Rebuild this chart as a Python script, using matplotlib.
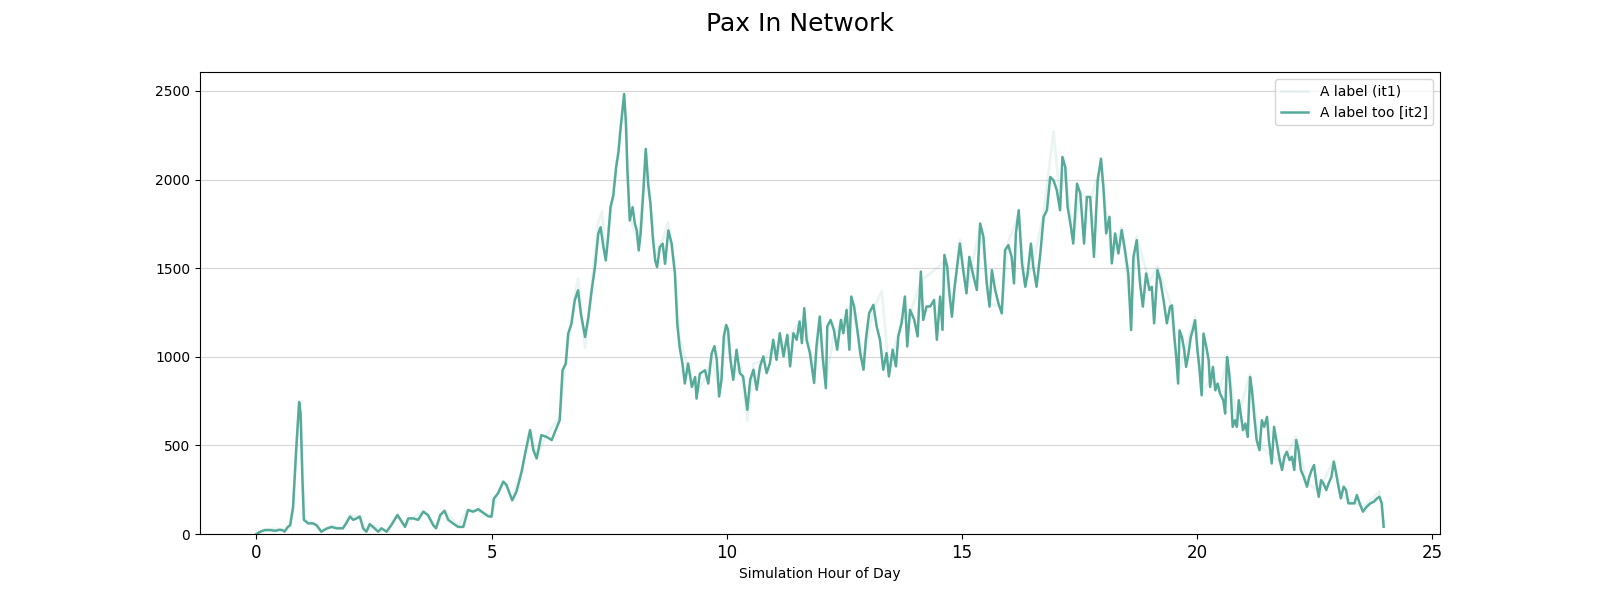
import matplotlib
matplotlib.use("Agg")
import matplotlib.pyplot as plt

# ---- data ----
hours_it2 = [0.0, 0.1, 0.18, 0.3, 0.4, 0.5, 0.57, 0.6, 0.67, 0.72, 0.78, 0.85, 0.91, 0.94, 0.98,
             1.01, 1.1, 1.2, 1.28, 1.38, 1.49, 1.6, 1.7, 1.84, 1.91, 1.99, 2.06, 2.13, 2.2, 2.27,
             2.34, 2.41, 2.48, 2.59, 2.66, 2.77, 2.87, 3.0, 3.09, 3.16, 3.23, 3.33, 3.44, 3.55,
             3.65, 3.76, 3.82, 3.91, 4.0, 4.08, 4.18, 4.29, 4.4, 4.5, 4.61, 4.72, 4.82, 4.93,
             5.0, 5.05, 5.14, 5.25, 5.32, 5.44, 5.53, 5.64, 5.73, 5.82, 5.89, 5.96, 6.06, 6.17,
             6.28, 6.35, 6.45, 6.51, 6.58, 6.63, 6.7, 6.77, 6.84, 6.9, 6.99, 7.06, 7.13, 7.2,
             7.27, 7.32, 7.38, 7.43, 7.48, 7.53, 7.59, 7.65, 7.7, 7.74, 7.79, 7.82, 7.86, 7.89,
             7.94, 8.0, 8.05, 8.09, 8.13, 8.17, 8.23, 8.28, 8.33, 8.38, 8.43, 8.48, 8.52, 8.58,
             8.64, 8.69, 8.76, 8.83, 8.9, 8.95, 9.0, 9.06, 9.11, 9.18, 9.26, 9.33, 9.36, 9.43,
             9.54, 9.61, 9.68, 9.74, 9.79, 9.84, 9.89, 9.94, 9.99, 10.03, 10.08, 10.14, 10.21,
             10.28, 10.35, 10.44, 10.5, 10.57, 10.64, 10.71, 10.78, 10.85, 10.92, 10.99, 11.06,
             11.13, 11.21, 11.29, 11.35, 11.42, 11.49, 11.55, 11.6, 11.65, 11.7, 11.77, 11.86,
             11.91, 11.98, 12.04, 12.11, 12.14, 12.21, 12.28, 12.35, 12.43, 12.48, 12.55, 12.61,
             12.65, 12.71, 12.77, 12.84, 12.91, 12.96, 13.03, 13.12, 13.19, 13.26, 13.33, 13.4,
             13.45, 13.53, 13.6, 13.65, 13.72, 13.79, 13.84, 13.9, 13.99, 14.06, 14.13, 14.18,
             14.25, 14.33, 14.41, 14.47, 14.54, 14.59, 14.63, 14.69, 14.74, 14.79, 14.84, 14.91,
             14.96, 15.03, 15.1, 15.16, 15.25, 15.32, 15.39, 15.46, 15.53, 15.59, 15.64, 15.71,
             15.78, 15.85, 15.92, 15.99, 16.06, 16.11, 16.15, 16.21, 16.28, 16.35, 16.4, 16.47,
             16.52, 16.59, 16.67, 16.74, 16.81, 16.88, 16.95, 17.02, 17.09, 17.14, 17.2, 17.25,
             17.32, 17.37, 17.45, 17.52, 17.6, 17.66, 17.73, 17.81, 17.89, 17.96, 18.01, 18.07,
             18.14, 18.19, 18.26, 18.33, 18.4, 18.47, 18.54, 18.6, 18.65, 18.72, 18.79, 18.85,
             18.92, 18.99, 19.04, 19.09, 19.16, 19.22, 19.29, 19.36, 19.43, 19.47, 19.52, 19.56,
             19.6, 19.63, 19.68, 19.73, 19.77, 19.82, 19.87, 19.91, 19.96, 20.01, 20.05, 20.1,
             20.14, 20.2, 20.25, 20.28, 20.34, 20.39, 20.44, 20.49, 20.56, 20.6, 20.64, 20.68,
             20.72, 20.76, 20.81, 20.85, 20.89, 20.93, 20.98, 21.03, 21.08, 21.13, 21.17, 21.22,
             21.27, 21.33, 21.38, 21.43, 21.49, 21.53, 21.59, 21.64, 21.7, 21.76, 21.81, 21.86,
             21.91, 21.97, 22.02, 22.07, 22.11, 22.16, 22.21, 22.27, 22.34, 22.39, 22.44, 22.49,
             22.54, 22.59, 22.64, 22.69, 22.75, 22.8, 22.86, 22.91, 22.96, 23.01, 23.06, 23.12,
             23.17, 23.22, 23.3, 23.35, 23.4, 23.46, 23.53, 23.61, 23.69, 23.76, 23.83, 23.88,
             23.93, 23.97]
pax_it2 = [0, 15, 22, 22, 18, 24, 20, 13, 40, 50, 150, 490, 745, 680, 305,
           80, 60, 60, 50, 13, 30, 40, 32, 32, 60, 98, 80, 88, 98, 32,
           13, 56, 40, 13, 32, 13, 50, 107, 70, 40, 88, 88, 80, 126,
           107, 50, 32, 107, 131, 80, 60, 40, 40, 135, 126, 140, 120, 100,
           98, 200, 230, 295, 276, 190, 238, 351, 473, 586, 473, 426, 558, 548,
           530, 577, 642, 924, 962, 1130, 1187, 1318, 1375, 1243, 1112, 1224, 1375, 1506,
           1694, 1731, 1619, 1544, 1675, 1844, 1910, 2070, 2154, 2276, 2408, 2483, 2314, 2051,
           1769, 1844, 1750, 1713, 1600, 1694, 1938, 2173, 1976, 1863, 1675, 1544, 1506, 1619,
           1638, 1525, 1713, 1638, 1469, 1187, 1055, 962, 849, 962, 830, 886, 764, 905,
           924, 849, 1018, 1060, 983, 776, 870, 1115, 1180, 1152, 983, 870, 1040,
           908, 889, 701, 870, 927, 814, 946, 1002, 908, 964, 1096, 983,
           1133, 1002, 1124, 946, 1133, 1096, 1199, 1077, 1274, 1096, 1021, 852,
           1058, 1227, 1002, 823, 1171, 1208, 1152, 1040, 1208, 1133, 1265, 1040,
           1340, 1284, 1171, 1021, 927, 1096, 1246, 1293, 1171, 1096, 927, 1021,
           889, 1040, 946, 1115, 1190, 1340, 1058, 1265, 1208, 1115, 1481, 1208,
           1284, 1284, 1321, 1096, 1340, 1152, 1575, 1509, 1350, 1226, 1377, 1527,
           1639, 1489, 1358, 1564, 1452, 1377, 1752, 1677, 1414, 1283, 1489, 1377,
           1301, 1245, 1602, 1630, 1564, 1414, 1696, 1827, 1527, 1395, 1470, 1639,
           1508, 1395, 1583, 1790, 1827, 2015, 1996, 1940, 1827, 2128, 2071, 1846,
           1733, 1639, 1977, 1921, 1639, 1902, 1902, 1564, 1996, 2118, 1959, 1696,
           1790, 1527, 1696, 1583, 1715, 1602, 1470, 1151, 1564, 1658, 1414, 1283,
           1470, 1377, 1395, 1189, 1489, 1433, 1320, 1189, 1283, 1290, 1112, 999,
           849, 1149, 1112, 1037, 943, 1018, 1112, 1149, 1206, 1037, 943, 783,
           1131, 1055, 980, 830, 943, 811, 849, 793, 755, 680, 999, 924,
           793, 605, 642, 605, 755, 680, 586, 623, 548, 886, 811, 661,
           530, 473, 642, 605, 661, 530, 398, 605, 511, 417, 361, 436,
           464, 417, 436, 361, 530, 473, 361, 323, 267, 323, 361, 389,
           285, 210, 304, 285, 248, 285, 323, 408, 342, 267, 201, 267,
           248, 173, 173, 173, 220, 173, 126, 154, 173, 182, 201, 210,
           173, 41]

hours_it1 = [0.0, 0.2, 0.4, 0.6, 0.7, 0.78, 0.85, 0.91, 0.95, 0.99, 1.03, 1.2, 1.38, 1.6, 1.84,
             1.99, 2.2, 2.34, 2.48, 2.77, 3.0, 3.16, 3.33, 3.55, 3.82, 4.0, 4.29, 4.5, 4.82,
             5.0, 5.14, 5.25, 5.44, 5.64, 5.82, 5.96, 6.17, 6.45, 6.58, 6.77, 6.84, 6.99, 7.13,
             7.27, 7.35, 7.43, 7.59, 7.74, 7.82, 7.94, 8.13, 8.28, 8.48, 8.64, 8.76, 8.9, 9.0,
             9.18, 9.36, 9.54, 9.68, 9.84, 9.99, 10.14, 10.3, 10.44, 10.57, 10.78, 10.99, 11.21,
             11.42, 11.65, 11.86, 11.98, 12.11, 12.28, 12.55, 12.65, 12.91, 13.12, 13.3, 13.45,
             13.72, 13.9, 14.13, 14.47, 14.63, 14.79, 14.96, 15.1, 15.39, 15.59, 15.85, 15.99,
             16.21, 16.35, 16.52, 16.74, 16.95, 17.09, 17.2, 17.37, 17.52, 17.73, 17.96, 18.19,
             18.4, 18.6, 18.72, 18.99, 19.16, 19.43, 19.6, 19.96, 20.1, 20.28, 20.49, 20.64,
             20.85, 21.13, 21.33, 21.59, 21.81, 22.11, 22.34, 22.59, 22.91, 23.06, 23.53, 23.88,
             23.97]
pax_it1 = [0, 25, 30, 25, 45, 160, 480, 735, 660, 290, 75, 65, 20, 45, 35,
           105, 100, 18, 45, 18, 110, 45, 92, 130, 38, 135, 45, 140, 125,
           100, 240, 300, 200, 360, 590, 440, 560, 660, 980, 1340, 1440, 1050, 1400,
           1760, 1820, 1580, 1930, 2290, 2470, 1790, 1640, 2160, 1570, 1660, 1760, 1500, 1100,
           940, 800, 880, 1000, 820, 1150, 900, 950, 640, 960, 980, 1060, 1050,
           1150, 1230, 900, 1180, 870, 1120, 1240, 1300, 980, 1270, 1370, 920,
           1210, 1240, 1430, 1500, 1540, 1250, 1660, 1380, 1730, 1300, 1280, 1650,
           1800, 1420, 1530, 1810, 2270, 1900, 2050, 1680, 1930, 1880, 2080, 1560,
           1730, 1250, 1680, 1420, 1510, 1310, 900, 1230, 800, 870, 820, 980,
           640, 900, 500, 440, 400, 550, 290, 240, 420, 220, 150, 240,
           60]

labels = ["A label (it1)", "A label too [it2]"]
title = "Pax In Network"
xlabel = "Simulation Hour of Day"

color = "#56aa9a"

fig, ax = plt.subplots(figsize=(16, 6), dpi=100)
ax.plot(hours_it1, pax_it1, color=color, alpha=0.12, lw=2.0, label=labels[0])
ax.plot(hours_it2, pax_it2, color=color, lw=1.8, label=labels[1])
ax.set_ylim(bottom=0)
ax.set_axisbelow(True)
ax.grid(axis="y", color="#d6d6d6", lw=0.8)
ax.tick_params(axis="x", labelsize=12)
ax.tick_params(axis="y", labelsize=10)
ax.set_xlabel(xlabel, fontsize=10)
ax.legend(loc="upper right")
fig.suptitle(title, fontsize=18)
fig.savefig("out.png", dpi=100)
